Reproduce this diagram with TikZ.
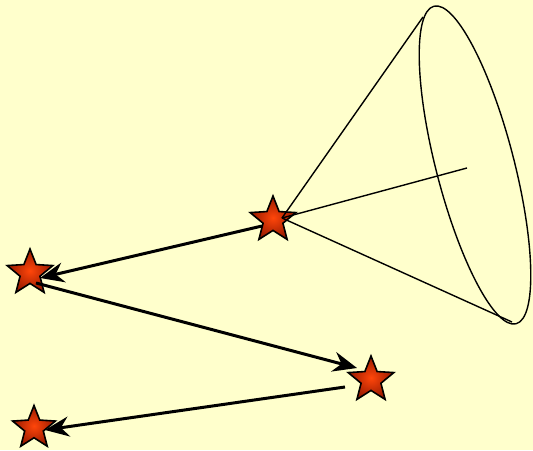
\documentclass[tikz,border=0pt]{standalone}
\usetikzlibrary{shapes.geometric,arrows.meta}
\definecolor{bg}{RGB}{255,255,204}
\definecolor{starin}{RGB}{255,70,10}
\definecolor{starout}{RGB}{150,25,0}
\begin{document}
\begin{tikzpicture}[x=1pt,y=1pt,
  starnode/.style={star, star points=5, star point ratio=2.3, minimum size=48pt, inner sep=0pt,
    draw=black, line width=1.6pt, inner color=starin, outer color=starout},
  thick arrow/.style={line width=3pt, -{Stealth[length=24pt,width=20pt,inset=8pt]}},
  conel/.style={line width=1.4pt}]
\fill[bg] (0,0) rectangle (533,450);
\useasboundingbox (0,0) rectangle (533,450);
% stars
\node[starnode] (s1) at (273,230) {};
\node[starnode] (s2) at (30,177) {};
\node[starnode] (s3) at (371,70) {};
\node[starnode, minimum size=45pt] (s4) at (34,22) {};
% cone
\coordinate (apex) at (282,232);
\coordinate (tt) at (423,433);
\coordinate (tb) at (512,128);
\coordinate (ax) at (467,282);
\coordinate (ec) at (475,285);
\draw[conel] (ec) ellipse[x radius=164, y radius=39, rotate=-75.5];
\draw[conel] (apex) -- (tt);
\draw[conel] (apex) -- (tb);
\draw[conel] (apex) -- (ax);
% arrows
\coordinate (a1s) at (262,224);
\coordinate (a1e) at (40,172);
\coordinate (a2s) at (36,167);
\coordinate (a2e) at (357,82);
\coordinate (a3s) at (345,63);
\coordinate (a3e) at (45,20);
\draw[thick arrow] (a1s) -- (a1e);
\draw[thick arrow] (a2s) -- (a2e);
\draw[thick arrow] (a3s) -- (a3e);
\end{tikzpicture}
\end{document}
